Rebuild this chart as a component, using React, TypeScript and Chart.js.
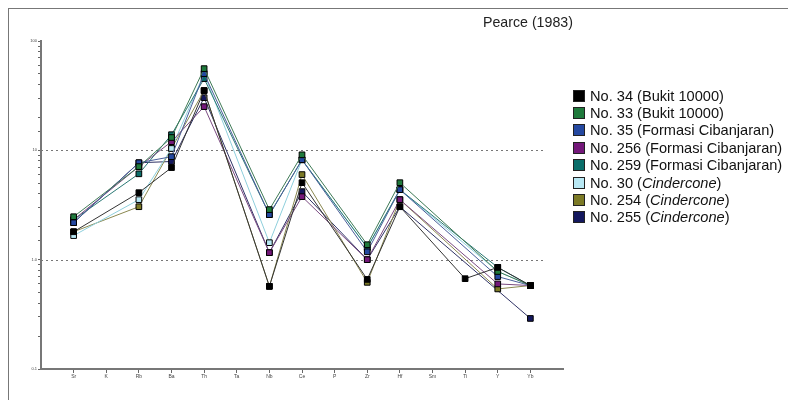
import React, { useEffect, useRef } from "react";
import { Chart, registerables } from "chart.js";

Chart.register(...registerables);

const elements = ["Sr", "K", "Rb", "Ba", "Th", "Ta", "Nb", "Ce", "P", "Zr", "Hf", "Sm", "Ti", "Y", "Yb"];

const no34 = [1.8, null, 4.1, 6.95, 35.2, null, 0.57, 5.06, null, 0.66, 3.05, null, 0.67, 0.85, 0.58];
const no33 = [2.47, null, 7.1, 13.1, 55.9, null, 2.87, 9.1, null, 1.37, 5.06, null, null, 0.78, 0.58];
const no35 = [2.18, null, 7.7, 8.75, 50.3, null, 2.58, 8.2, null, 1.18, 4.37, null, null, 0.7, 0.58];
const no256 = [2.32, null, 7.1, 12.0, 25.1, null, 1.16, 3.77, null, 1.0, 3.54, null, null, 0.6, 0.58];
const no259 = [2.32, null, 6.1, 13.9, 45.3, null, 2.58, 8.2, null, 1.29, 4.37, null, null, 0.85, 0.58];
const no30 = [1.66, null, 3.54, 10.4, 50.3, null, 1.43, 8.2, null, 1.29, 4.37, null, null, 0.78, 0.58];
const no254 = [1.8, null, 3.05, 10.4, 35.2, null, 0.57, 6.0, null, 0.62, 3.54, null, null, 0.54, 0.58];
const no255 = [2.18, null, 7.7, 7.9, 30.3, null, 1.16, 4.19, null, 1.0, 3.05, null, null, null, 0.29];

const seriesLabels = [
  ["No. 34 (Bukit 10000)", ""],
  ["No. 33 (Bukit 10000)", ""],
  ["No. 35 (Formasi Cibanjaran)", ""],
  ["No. 256 (Formasi Cibanjaran)", ""],
  ["No. 259 (Formasi Cibanjaran)", ""],
  ["No. 30 (", "Cindercone"],
  ["No. 254 (", "Cindercone"],
  ["No. 255 (", "Cindercone"],
];
const seriesData = [no34, no33, no35, no256, no259, no30, no254, no255];
const fillColors = ["#000000", "#1f7a3c", "#2448a0", "#74187a", "#0a6e6a", "#b8e8f4", "#7c7a26", "#14185e"];
const lineColors = ["#333333", "#3e7a55", "#4a5f9a", "#7a4a80", "#2a7874", "#8ecfdc", "#8a8850", "#303366"];

const yTickLabels: Record<string, string> = { "100": "100", "10": "10", "1": "1.0", "0.1": "0.1" };
const refLines = [10, 1];
const refLineEndX = 15.4;

const refLinePlugin = {
  id: "refLines",
  beforeDatasetsDraw(chart: any) {
    const { ctx, chartArea, scales } = chart;
    ctx.save();
    ctx.strokeStyle = "#777";
    ctx.lineWidth = 1;
    ctx.setLineDash([2, 3]);
    const xEnd = scales.x.getPixelForValue(refLineEndX);
    refLines.forEach((v) => {
      const y = Math.round(scales.y.getPixelForValue(v)) + 0.5;
      ctx.beginPath();
      ctx.moveTo(chartArea.left, y);
      ctx.lineTo(xEnd, y);
      ctx.stroke();
    });
    ctx.restore();
  },
};

export default function App() {
  const ref = useRef<HTMLCanvasElement>(null);
  useEffect(() => {
    if (!ref.current) return;
    const chart = new Chart(ref.current, {
      type: "line",
      data: {
        datasets: seriesData.map((arr, i) => ({
          label: seriesLabels[i].join(""),
          data: arr.map((v, j) => ({ x: j + 1, y: v })),
          borderColor: lineColors[i],
          backgroundColor: fillColors[i],
          borderWidth: 1,
          pointStyle: "rect",
          pointRadius: 4,
          pointBorderColor: "#000",
          pointBorderWidth: 1,
          pointBackgroundColor: fillColors[i],
          spanGaps: true,
          tension: 0,
        })),
      },
      options: {
        animation: false,
        responsive: false,
        maintainAspectRatio: false,
        layout: { padding: { left: 0, top: 33, right: 233, bottom: 0 } },
        plugins: { legend: { display: false }, title: { display: false }, tooltip: { enabled: false } },
        scales: {
          x: {
            type: "linear",
            min: 0,
            max: 16,
            afterBuildTicks: (scale: any) => {
              scale.ticks = elements.map((_, i) => ({ value: i + 1 }));
            },
            afterFit: (scale: any) => {
              scale.height = 31;
            },
            ticks: {
              autoSkip: false,
              maxRotation: 0,
              padding: 1,
              font: { size: 5, family: "Liberation Sans" },
              color: "#444",
              callback: (v: any) => elements[Number(v) - 1] ?? "",
            },
            grid: { drawOnChartArea: false, drawTicks: true, tickLength: 4, tickColor: "#666", tickWidth: 1 },
            border: { display: true, color: "#777", width: 2 },
          },
          y: {
            type: "logarithmic",
            min: 0.1,
            max: 100,
            afterFit: (scale: any) => {
              scale.width = 33;
            },
            ticks: {
              autoSkip: false,
              padding: 1,
              font: { size: 4, family: "Liberation Sans" },
              color: "#444",
              callback: (v: any) => {
                const key = String(Number(v));
                return yTickLabels[key] ?? "";
              },
            },
            grid: { drawOnChartArea: false, drawTicks: true, tickLength: 3, tickColor: "#666", tickWidth: 1 },
            border: { display: true, color: "#777", width: 2 },
          },
        },
      },
      plugins: [refLinePlugin],
    } as any);
    return () => chart.destroy();
  }, []);

  return (
    <div style={{ position: "relative", width: 788, height: 392, fontFamily: "'Liberation Sans', Arial, sans-serif" }}>
      <div style={{ position: "absolute", left: 0, top: 0, width: 788, height: 392, borderTop: "1px solid #777", borderLeft: "1px solid #777", boxSizing: "border-box" }} />
      <canvas ref={ref} width={788} height={392} style={{ position: "absolute", left: 0, top: 0, width: 788, height: 392 }} />
      <div style={{ position: "absolute", left: 475, top: 6, fontSize: 14.2, color: "#222", whiteSpace: "nowrap" }}>Pearce (1983)</div>
      <div style={{ position: "absolute", left: 565, top: 79 }}>
        {seriesLabels.map((lab, i) => (
          <div key={i} style={{ display: "flex", alignItems: "center", height: 17.4, whiteSpace: "nowrap" }}>
            <span style={{ display: "inline-block", width: 10, height: 10, border: "1px solid #222", background: fillColors[i], marginRight: 5 }} />
            <span style={{ fontSize: 14.6, color: "#111" }}>
              {lab[0]}
              {lab[1] ? (
                <>
                  <i>{lab[1]}</i>)
                </>
              ) : null}
            </span>
          </div>
        ))}
      </div>
    </div>
  );
}
